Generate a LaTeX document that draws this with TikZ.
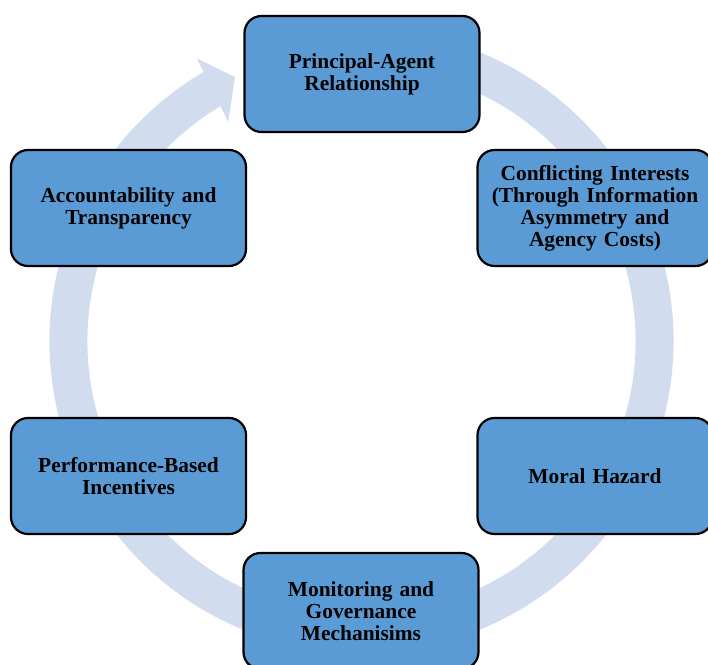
\documentclass[tikz,border=0pt]{standalone}
\usepackage{fontspec}
\setmainfont{Liberation Serif}
\usepackage{xcolor}
\definecolor{stageblue}{HTML}{5B9BD5}
\definecolor{ringblue}{HTML}{D1DDEF}
\usepackage{tikz}
\usetikzlibrary{arrows.meta, positioning}

\begin{document}
\begin{tikzpicture}[x=1pt, y=1pt,
    stage/.style={draw=black, line width=2.2pt, fill=stageblue, rounded corners=17pt,
      minimum width=235pt, minimum height=116pt, inner sep=0pt, text width=222pt,
      align=center, font=\bfseries\fontsize{21.4}{22}\selectfont},
    ring/.style={draw=ringblue, line width=38pt}]
  \useasboundingbox (0, 0) rectangle (708, 664);
  \coordinate (C) at (361.5, 323);

  % Circular arrow behind the stages
  \draw[ring] ([shift={(C)}]72:293pt) arc[start angle=72, end angle=-239.6, radius=293pt];
  \fill[ringblue] ([shift={(C)}]120.24:327.2pt) -- ([shift={(C)}]115.6:292.7pt)
    -- ([shift={(C)}]121.3:256.6pt) -- cycle;

  % Stages of the cycle
  \node[stage] (principal) at (362, 590) {Principal-Agent\\Relationship};
  \node[stage] (conflict) at (595, 456) {Conflicting Interests\\(Through Information\\Asymmetry and\\Agency Costs)};
  \node[stage] (hazard) at (595, 188) {Moral Hazard};
  \node[stage] (monitoring) at (361, 53) {Monitoring and\\Governance\\Mechanisims};
  \node[stage] (incentives) at (128.5, 188) {Performance-Based\\Incentives};
  \node[stage] (account) at (128.5, 456) {Accountability and\\Transparency};
\end{tikzpicture}
\end{document}
